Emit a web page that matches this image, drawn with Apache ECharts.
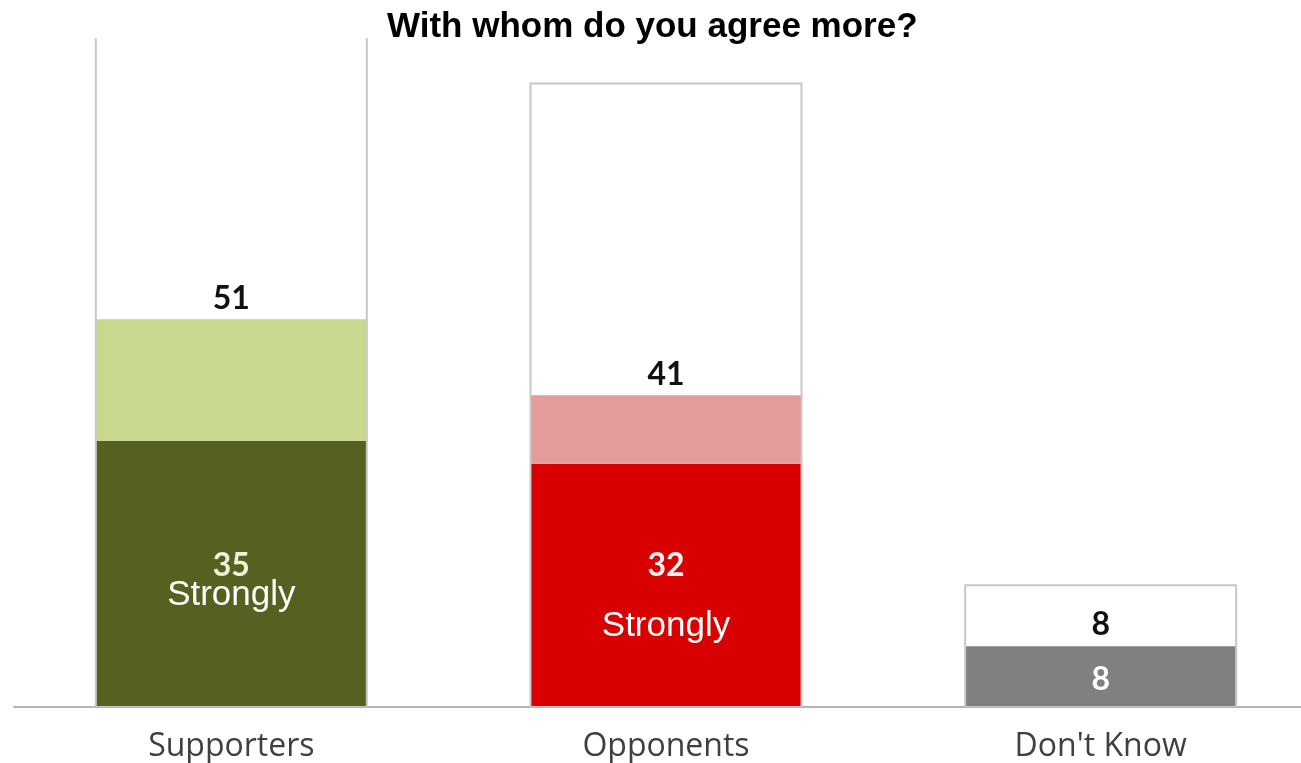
<!DOCTYPE html>
<html>
<head>
<meta charset="utf-8">
<script src="https://cdn.jsdelivr.net/npm/echarts@6/dist/echarts.min.js"></script>
<style>
  html, body { margin: 0; padding: 0; background: #ffffff; overflow: hidden; }
  #chart { width: 1318px; height: 763px; }
</style>
</head>
<body>
<div id="chart"></div>
<script>
// Survey answers, in percent
const categories = ['Supporters', 'Opponents', "Don't Know"];
const strongValues = [35, 32, 8];
const somewhatValues = [16, 9, 0];
const totalValues = [51, 41, 8];
const frameValues = [102, 82, 16];

const strongColors = ['#556120', '#d80000', '#808080'];
const somewhatColors = ['#c8d88e', '#e39b9b', '#bfbfbf'];
const strongLabelColors = ['#eef3da', '#fff2f2', '#ffffff'];

const BAR_WIDTH = 271;
const VALUE_FONT = 'Lato, "Open Sans", sans-serif';

// Inside label of each "strongly" segment: value plus a caption
function strongLabel(i) {
  const rich = {
    v: { fontFamily: VALUE_FONT, fontWeight: 'bold', fontSize: 32, lineHeight: 28, color: strongLabelColors[i] },
    gap: { fontSize: 10, lineHeight: 31 },
    s: { fontFamily: '"Liberation Sans", Arial, sans-serif', fontSize: 35, lineHeight: 30, color: '#ffffff' }
  };
  const v = strongValues[i];
  if (i === 0) return { formatter: '{v|' + v + '}\n{s|Strongly}', offset: [0, 7], rich };
  if (i === 1) return { formatter: '{v|' + v + '}\n{gap| }\n{s|Strongly}', offset: [0, 11], rich };
  return { formatter: '{v|' + v + '}', offset: [0, 3], rich };
}

const chart = echarts.init(document.getElementById('chart'), null, { renderer: 'canvas' });

chart.setOption({
  animation: false,
  backgroundColor: '#ffffff',
  title: {
    text: 'With whom do you agree more?',
    left: 382,
    top: 5,
    textStyle: { fontFamily: '"Liberation Sans", Arial, sans-serif', fontWeight: 'bold', fontSize: 35, color: '#000000' }
  },
  grid: { left: 14, right: 0, top: 38, bottom: 55, containLabel: false },
  xAxis: {
    type: 'category',
    data: categories,
    axisLine: { lineStyle: { color: '#b4b4b4', width: 2 } },
    axisTick: { show: false },
    axisLabel: { fontFamily: '"Open Sans", sans-serif', fontSize: 32, color: '#404040', margin: 24 }
  },
  yAxis: {
    type: 'value',
    min: 0,
    max: 88,
    show: false,
    splitLine: { show: false }
  },
  series: [
    {
      name: 'Strongly',
      type: 'bar',
      stack: 'answer',
      barWidth: BAR_WIDTH,
      data: strongValues.map((v, i) => ({
        value: v,
        itemStyle: { color: strongColors[i] },
        label: Object.assign({ show: true, position: 'inside' }, strongLabel(i))
      }))
    },
    {
      name: 'Somewhat',
      type: 'bar',
      stack: 'answer',
      barWidth: BAR_WIDTH,
      data: somewhatValues.map((v, i) => ({ value: v, itemStyle: { color: somewhatColors[i] } })),
      label: {
        show: true,
        position: 'top',
        distance: 5,
        formatter: (p) => String(totalValues[p.dataIndex]),
        fontFamily: VALUE_FONT,
        fontWeight: 'bold',
        fontSize: 32,
        color: '#111111'
      }
    },
    {
      // Open outline box around each column
      name: 'Frame',
      type: 'custom',
      silent: true,
      clip: true,
      z: 5,
      data: frameValues.map((v, i) => [i, v]),
      encode: { x: 0, y: 1 },
      renderItem(params, api) {
        const base = api.coord([api.value(0), 0]);
        const top = api.coord([api.value(0), api.value(1)]);
        return {
          type: 'rect',
          shape: { x: base[0] - BAR_WIDTH / 2, y: top[1], width: BAR_WIDTH, height: base[1] - top[1] },
          style: { fill: 'none', stroke: '#c8c8c8', lineWidth: 2 }
        };
      }
    }
  ]
});
</script>
</body>
</html>
